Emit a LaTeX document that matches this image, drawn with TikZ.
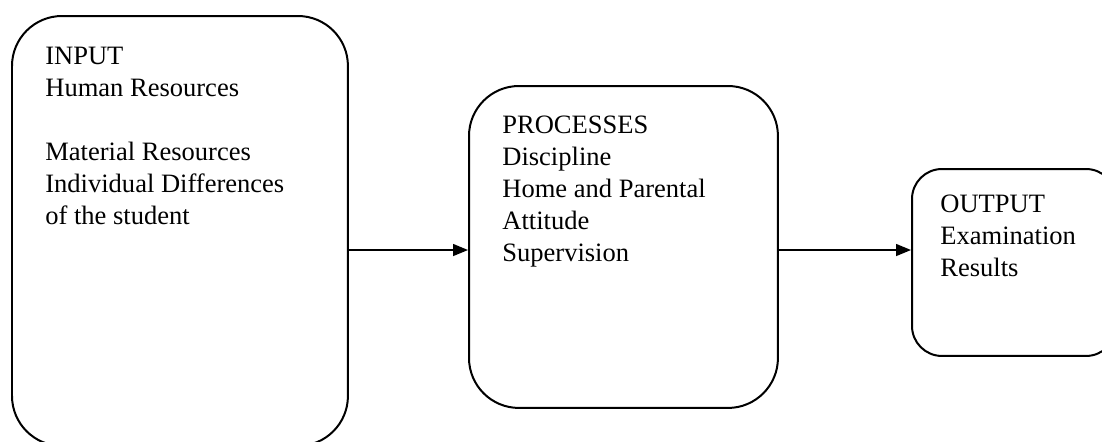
\documentclass[tikz,border=0pt]{standalone}
\usepackage{fontspec}
\setmainfont{Liberation Serif}
\usetikzlibrary{arrows.meta,positioning}
\begin{document}
\begin{tikzpicture}[x=0.02cm,y=-0.02cm,>={Triangle[length=0.3cm,width=0.24cm]},
        stage/.style={draw,line width=0.04cm,rounded corners=1cm,inner sep=0,anchor=north west},
        stagetext/.style={anchor=north west,inner sep=0,align=left,font=\fontsize{15.1}{18.2}\selectfont}]
        \useasboundingbox (0,0) rectangle (1102,441);
        % the three stages
        \node[stage,minimum width=6.72cm,minimum height=8.6cm] (inbox) at (11,15) {};
        \node[stage,minimum width=6.18cm,minimum height=6.44cm] (procbox) at (468,85) {};
        \node[stage,rounded corners=0.6cm,minimum width=4.08cm,minimum height=3.74cm] (outbox) at (911,168) {};
        \node[stagetext] (intext) at (45,46.5) {INPUT\\Human Resources\\[0.64cm]Material Resources\\Individual Differences\\of the student};
        \node[stagetext] (proctext) at (502,115.5) {PROCESSES\\Discipline\\Home and Parental\\Attitude\\Supervision};
        \node[stagetext] (outtext) at (940,194.5) {OUTPUT\\Examination\\Results};
        % flow between stages
        \coordinate (flow) at (0,250);
        \draw[->,line width=0.03cm] (inbox.east |- flow) -- (procbox.west |- flow);
        \draw[->,line width=0.03cm] (procbox.east |- flow) -- (outbox.west |- flow);
    \end{tikzpicture}
\end{document}
